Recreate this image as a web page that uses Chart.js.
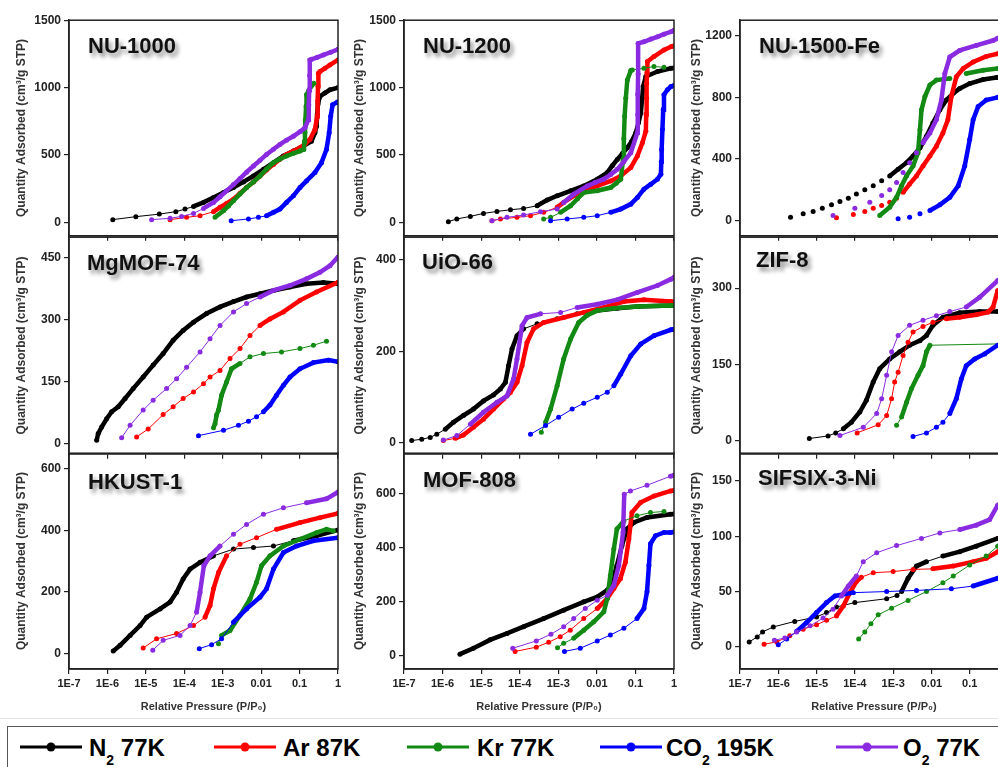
<!DOCTYPE html>
<html>
<head>
<meta charset="utf-8">
<script src="https://cdn.jsdelivr.net/npm/chart.js@4.4.1/dist/chart.umd.min.js"></script>
<style>
    body { margin: 0; width: 998px; height: 767px; overflow: hidden; background: #fff; position: relative; font-family: 'Liberation Sans', Arial, sans-serif; }
    canvas { position: absolute; }
    .tag { position: absolute; font: bold 22px 'Liberation Sans', Arial, sans-serif; line-height: 22px; color: #111; white-space: nowrap; text-shadow: 3px 4px 4px rgba(0,0,0,0.45); }
    #legendBox { position: absolute; left: 7px; top: 726px; width: 1000px; height: 50px; border: 1.5px solid #555; box-sizing: border-box; }
    #topRule { position: absolute; left: 0; top: 718px; width: 998px; height: 1px; background: #e2e2e2; }
    .lg-mark { position: absolute; top: 740px; }
    .lg-text { position: absolute; top: 735px; font: bold 24px 'Liberation Sans', Arial, sans-serif; line-height: 26px; color: #000; white-space: nowrap; }
    .lg-text sub { font-size: 14px; vertical-align: -9px; line-height: 0; }
</style>
</head>
<body>
<div id="topRule"></div>
<div id="legendBox"></div>
<script>
// x values are log10(P/P0), y values are cm3/g STP
const X_TICKS = [-7, -6, -5, -4, -3, -2, -1, 0];
const X_TICK_LABELS = ['1E-7', '1E-6', '1E-5', '1E-4', '1E-3', '0.01', '0.1', '1'];

const GASES = ['N2 77K', 'Ar 87K', 'Kr 77K', 'CO2 195K', 'O2 77K'];
const GAS_COLORS = ['#000000', '#ff0000', '#138a13', '#0000ff', '#8a2be2'];
const LEGEND_HTML = ['N<sub>2</sub> 77K', 'Ar 87K', 'Kr 77K', 'CO<sub>2</sub> 195K', 'O<sub>2</sub> 77K'];

const PANEL_NAMES = ['NU-1000', 'NU-1200', 'NU-1500-Fe', 'MgMOF-74', 'UiO-66', 'ZIF-8', 'HKUST-1', 'MOF-808', 'SIFSIX-3-Ni'];

// ---- NU-1000
const NU1000_YTICKS = [0, 500, 1000, 1500];
const NU1000_N2 = [[-5.86,20],[-5.26,42],[-4.65,61],[-4.22,79],[-3.98,98],[-3.76,118],[-3.5,148],[-3.24,184],[-2.98,221],[-2.72,258],[-2.46,300],[-2.2,344],[-1.94,393],[-1.68,443],[-1.42,492],[-1.16,529],[-0.9,566],[-0.69,602],[-0.6,664],[-0.56,713],[-0.54,800],[-0.52,880],[-0.47,934],[-0.34,960],[-0.21,983],[0,1000]];
const NU1000_AR = [[-4.37,20],[-3.94,37],[-3.59,49],[-3.24,79],[-3.07,111],[-2.9,140],[-2.72,172],[-2.55,215],[-2.38,258],[-2.2,300],[-2.03,344],[-1.86,388],[-1.68,430],[-1.51,468],[-1.34,504],[-1.16,530],[-0.99,553],[-0.86,580],[-0.73,615],[-0.6,689],[-0.54,787],[-0.53,900],[-0.52,1010],[-0.51,1107],[-0.47,1119],[-0.34,1143],[-0.21,1168],[0,1205]];
const NU1000_KR = [[-3.2,37],[-2.98,86],[-2.85,122],[-2.72,160],[-2.55,210],[-2.38,258],[-2.2,300],[-2.03,344],[-1.86,395],[-1.68,443],[-1.51,470],[-1.34,492],[-1.16,512],[-0.99,529],[-0.89,541],[-0.87,600],[-0.86,664],[-0.85,760],[-0.83,860],[-0.82,947],[-0.75,985],[-0.63,1033]];
const NU1000_CO2 = [[-2.78,12],[-2.33,25],[-2.07,37],[-1.86,49],[-1.68,74],[-1.51,98],[-1.34,148],[-1.16,197],[-0.99,258],[-0.82,307],[-0.6,369],[-0.43,443],[-0.3,541],[-0.23,664],[-0.19,787],[-0.14,873],[-0.03,890],[0,895]];
const NU1000_O2 = [[-4.85,20],[-4.37,30],[-4.07,44],[-3.76,66],[-3.5,103],[-3.24,148],[-3.07,190],[-2.9,234],[-2.72,280],[-2.55,325],[-2.38,372],[-2.2,418],[-2.03,460],[-1.86,504],[-1.68,542],[-1.51,578],[-1.34,610],[-1.16,639],[-0.99,672],[-0.86,701],[-0.77,762],[-0.76,870],[-0.75,980],[-0.74,1090],[-0.73,1205],[-0.69,1210],[-0.54,1225],[-0.38,1242],[-0.19,1262],[0,1284]];

// ---- NU-1200
const NU1200_YTICKS = [0, 500, 1000, 1500];
const NU1200_N2 = [[-5.85,5],[-5.63,25],[-5.28,44],[-4.94,66],[-4.59,81],[-4.24,93],[-3.9,103],[-3.55,123],[-3.29,165],[-3.03,197],[-2.68,234],[-2.34,270],[-1.99,320],[-1.73,369],[-1.6,420],[-1.47,467],[-1.34,510],[-1.21,553],[-1.1,600],[-0.99,664],[-0.92,740],[-0.86,811],[-0.8,1008],[-0.73,1082],[-0.43,1119],[-0.08,1143],[0,1145]];
const NU1200_AR = [[-4.72,12],[-4.5,25],[-4.07,37],[-3.72,49],[-3.38,74],[-3.03,111],[-2.86,148],[-2.6,197],[-2.34,234],[-1.99,270],[-1.64,307],[-1.38,344],[-1.12,406],[-0.95,492],[-0.82,590],[-0.73,676],[-0.72,800],[-0.71,920],[-0.71,1033],[-0.7,1110],[-0.69,1193],[-0.52,1230],[-0.26,1279],[-0.08,1303],[0,1310]];
const NU1200_KR = [[-3.38,25],[-3.2,37],[-2.94,74],[-2.68,123],[-2.5,175],[-2.34,221],[-1.99,234],[-1.64,258],[-1.5,290],[-1.38,320],[-1.32,467],[-1.3,620],[-1.28,787],[-1.25,920],[-1.21,1057],[-1.12,1126],[-1.08,1131],[-0.78,1143],[-0.52,1156],[-0.26,1151]];
const NU1200_CO2 = [[-3.2,12],[-2.77,25],[-2.34,37],[-1.99,49],[-1.64,74],[-1.38,98],[-1.12,135],[-0.95,184],[-0.78,246],[-0.6,283],[-0.43,320],[-0.34,357],[-0.33,450],[-0.32,541],[-0.3,690],[-0.28,836],[-0.26,947],[-0.17,984],[-0.08,1008],[0,1015]];
const NU1200_O2 = [[-4.72,12],[-4.33,37],[-3.9,54],[-3.46,79],[-3.03,98],[-2.86,148],[-2.6,209],[-2.25,270],[-2.05,295],[-1.82,320],[-1.64,355],[-1.47,393],[-1.3,450],[-1.12,516],[-0.95,664],[-0.94,800],[-0.94,950],[-0.93,1100],[-0.93,1328],[-0.78,1340],[-0.6,1360],[-0.43,1377],[-0.26,1396],[-0.08,1414],[0,1425]];

// ---- NU-1500-Fe
const NU1500_YTICKS = [0, 400, 800, 1200];
const NU1500_N2 = [[-5.68,21],[-5.35,43],[-5.09,58],[-4.85,79],[-4.61,101],[-4.39,122],[-4.17,144],[-3.96,171],[-3.74,199],[-3.52,225],[-3.3,257],[-3.09,289],[-2.87,332],[-2.65,375],[-2.48,418],[-2.3,471],[-2.13,546],[-1.96,632],[-1.78,718],[-1.61,782],[-1.43,825],[-1.26,857],[-1.0,889],[-0.65,915],[-0.3,928],[0,930]];
const NU1500_AR = [[-4.48,17],[-4.04,39],[-3.74,58],[-3.52,79],[-3.3,96],[-3.09,118],[-2.91,144],[-2.74,182],[-2.57,236],[-2.39,289],[-2.22,354],[-2.04,418],[-1.87,482],[-1.7,568],[-1.57,654],[-1.48,804],[-1.35,932],[-1.17,986],[-0.91,1029],[-0.57,1065],[-0.27,1082],[0,1090]];
const NU1500_KR = [[-3.35,32],[-3.09,86],[-2.91,150],[-2.78,225],[-2.65,289],[-2.48,354],[-2.35,439],[-2.3,589],[-2.26,718],[-2.17,804],[-2.04,879],[-1.87,911],[-1.52,921],[-1.09,954],[-0.65,975],[-0.27,986],[0,985]];
const NU1500_CO2 = [[-2.87,11],[-2.57,21],[-2.3,43],[-2.04,64],[-1.78,101],[-1.52,150],[-1.3,225],[-1.13,354],[-1.0,525],[-0.91,654],[-0.78,739],[-0.57,782],[-0.27,799],[0,805]];
const NU1500_O2 = [[-4.57,32],[-4.0,79],[-3.61,118],[-3.3,161],[-3.09,199],[-2.91,246],[-2.74,311],[-2.57,375],[-2.39,439],[-2.22,504],[-2.04,568],[-1.87,654],[-1.74,782],[-1.65,954],[-1.52,1061],[-1.26,1104],[-0.83,1136],[-0.39,1168],[-0.27,1183],[0,1195]];

// ---- MgMOF-74
const MGMOF_YTICKS = [0, 150, 300, 450];
const MGMOF_N2 = [[-6.28,8],[-6.24,24],[-6.15,40],[-6.02,60],[-5.89,77],[-5.72,89],[-5.54,109],[-5.33,133],[-5.07,161],[-4.81,190],[-4.55,218],[-4.29,250],[-4.03,274],[-3.76,294],[-3.42,315],[-3.07,331],[-2.72,344],[-2.38,355],[-2.03,363],[-1.68,371],[-1.25,379],[-0.82,387],[-0.38,390],[0,387]];
const MGMOF_AR = [[-5.24,16],[-4.94,35],[-4.55,70],[-4.29,89],[-4.03,109],[-3.76,125],[-3.5,145],[-3.33,161],[-3.07,177],[-2.81,206],[-2.55,230],[-2.29,262],[-2.03,286],[-1.77,302],[-1.42,319],[-0.99,347],[-0.56,367],[0,391]];
const MGMOF_KR = [[-3.24,38],[-3.2,48],[-3.16,69],[-3.11,81],[-3.03,117],[-2.9,149],[-2.77,181],[-2.55,194],[-2.29,210],[-1.94,218],[-1.47,222],[-0.99,230],[-0.64,238],[-0.3,248]];
const MGMOF_CO2 = [[-3.63,19],[-2.98,32],[-2.59,44],[-2.33,54],[-2.12,65],[-1.94,77],[-1.77,93],[-1.6,117],[-1.42,141],[-1.25,161],[-0.99,181],[-0.64,196],[-0.25,202],[0,198]];
const MGMOF_O2 = [[-5.63,14],[-5.41,44],[-5.07,81],[-4.81,105],[-4.46,133],[-4.2,157],[-3.94,185],[-3.59,222],[-3.33,254],[-3.07,286],[-2.72,319],[-2.38,339],[-2.03,355],[-1.68,371],[-1.25,383],[-0.82,399],[-0.47,415],[-0.21,431],[0,452]];

// ---- UiO-66
const UIO_YTICKS = [0, 200, 400];
const UIO_N2 = [[-6.8,4],[-6.54,7],[-6.32,11],[-6.15,18],[-5.93,29],[-5.72,44],[-5.46,59],[-5.2,73],[-4.94,91],[-4.68,104],[-4.5,117],[-4.37,132],[-4.29,168],[-4.2,205],[-4.07,234],[-3.9,249],[-3.55,260],[-3.03,271],[-2.51,282],[-1.99,289],[-1.47,294],[-0.95,298],[-0.08,300],[0,300]];
const UIO_AR = [[-5.98,4],[-5.67,9],[-5.46,16],[-5.2,33],[-4.94,51],[-4.68,73],[-4.42,95],[-4.24,110],[-4.07,132],[-3.94,168],[-3.81,219],[-3.64,249],[-3.38,263],[-2.86,274],[-2.34,285],[-1.82,296],[-1.3,309],[-0.78,313],[-0.08,309],[0,308]];
const UIO_KR = [[-3.44,22],[-3.33,44],[-3.2,73],[-3.03,124],[-2.86,183],[-2.68,227],[-2.47,263],[-2.25,279],[-1.99,289],[-1.56,294],[-0.95,298],[-0.08,300],[0,300]];
const UIO_CO2 = [[-3.72,18],[-3.33,37],[-2.99,55],[-2.64,73],[-2.34,86],[-1.99,99],[-1.73,110],[-1.56,124],[-1.38,150],[-1.12,190],[-0.86,216],[-0.52,234],[-0.08,247],[0,248]];
const UIO_O2 = [[-5.98,5],[-5.63,15],[-5.28,40],[-4.94,66],[-4.59,88],[-4.33,102],[-4.16,139],[-4.07,183],[-3.94,256],[-3.81,274],[-3.46,282],[-2.94,285],[-2.51,296],[-1.99,303],[-1.47,313],[-0.95,329],[-0.43,344],[-0.08,358],[0,362]];

// ---- ZIF-8
const ZIF_YTICKS = [0, 150, 300];
const ZIF_N2 = [[-5.19,5],[-4.7,10],[-4.5,16],[-4.3,24],[-4.09,37],[-3.87,57],[-3.7,80],[-3.52,116],[-3.35,142],[-3.09,161],[-2.83,175],[-2.57,188],[-2.3,197],[-2.13,207],[-1.96,227],[-1.7,243],[-1.26,252],[-0.74,254],[-0.27,254],[0,254]];
const ZIF_AR = [[-3.94,16],[-3.39,32],[-3.17,50],[-3.04,83],[-2.96,116],[-2.87,135],[-2.74,168],[-2.61,194],[-2.48,214],[-2.22,225],[-1.96,233],[-1.61,240],[-1.26,243],[-0.83,248],[-0.52,253],[-0.39,263],[-0.27,295],[0,300]];
const ZIF_KR = [[-2.91,31],[-2.78,47],[-2.65,76],[-2.52,103],[-2.35,129],[-2.22,148],[-2.13,175],[-2.04,188],[0,191]];
const ZIF_CO2 = [[-2.48,9],[-2.13,16],[-1.87,27],[-1.7,37],[-1.52,54],[-1.35,83],[-1.22,122],[-1.09,148],[-0.87,161],[-0.61,171],[-0.27,188],[0,195]];
const ZIF_O2 = [[-4.39,11],[-3.78,27],[-3.43,54],[-3.3,83],[-3.17,129],[-3.04,175],[-2.87,207],[-2.57,227],[-2.22,237],[-1.87,246],[-1.52,254],[-1.09,263],[-0.74,282],[-0.27,315],[0,325]];

// ---- HKUST-1
const HKUST_YTICKS = [0, 200, 400, 600];
const HKUST_N2 = [[-5.85,8],[-5.67,27],[-5.41,59],[-5.15,91],[-4.98,118],[-4.63,145],[-4.37,167],[-4.2,199],[-4.03,242],[-3.85,274],[-3.59,296],[-3.24,317],[-2.72,339],[-2.2,344],[-1.68,349],[-1.16,366],[-0.56,382],[0,401]];
const HKUST_AR = [[-5.07,18],[-4.72,48],[-4.2,65],[-3.76,91],[-3.46,118],[-3.33,156],[-3.24,210],[-3.11,263],[-2.9,317],[-2.55,355],[-2.12,376],[-1.6,403],[-0.99,425],[-0.47,441],[0,455]];
const HKUST_KR = [[-3.11,32],[-3.03,59],[-2.81,75],[-2.55,124],[-2.29,177],[-2.12,231],[-1.99,285],[-1.77,317],[-1.42,349],[-0.99,371],[-0.56,392],[-0.3,403],[-0.12,398]];
const HKUST_CO2 = [[-3.61,16],[-3.29,29],[-3.03,48],[-2.72,102],[-2.38,145],[-2.03,183],[-1.86,210],[-1.68,274],[-1.42,328],[-1.08,349],[-0.64,366],[0,376]];
const HKUST_O2 = [[-4.82,11],[-4.55,43],[-4.11,59],[-3.85,91],[-3.68,134],[-3.59,199],[-3.49,285],[-3.33,317],[-3.07,349],[-2.72,387],[-2.38,419],[-1.94,452],[-1.42,473],[-0.82,489],[-0.3,502],[0,524]];

// ---- MOF-808
const MOF808_YTICKS = [0, 200, 400, 600];
const MOF808_N2 = [[-5.55,5],[-5.2,27],[-4.77,58],[-4.33,82],[-3.9,107],[-3.38,137],[-2.86,168],[-2.34,199],[-1.99,217],[-1.73,242],[-1.6,272],[-1.48,334],[-1.35,407],[-1.22,469],[-1.04,493],[-0.7,512],[-0.09,524],[0,525]];
const MOF808_AR = [[-4.12,15],[-3.57,31],[-3.25,49],[-2.95,70],[-2.69,94],[-2.34,137],[-1.99,174],[-1.73,211],[-1.56,248],[-1.39,285],[-1.26,346],[-1.17,432],[-1.09,530],[-0.87,567],[-0.52,591],[-0.09,610],[0,612]];
const MOF808_KR = [[-3.02,29],[-2.86,45],[-2.6,64],[-2.34,94],[-2.08,125],[-1.82,162],[-1.73,211],[-1.65,297],[-1.56,395],[-1.48,469],[-1.3,499],[-0.96,518],[-0.61,530],[-0.26,534]];
const MOF808_CO2 = [[-2.84,15],[-2.43,27],[-1.99,54],[-1.65,76],[-1.3,101],[-0.96,137],[-0.78,174],[-0.7,236],[-0.65,334],[-0.61,414],[-0.48,444],[-0.26,456],[-0.09,456],[0,458]];
const MOF808_O2 = [[-4.18,27],[-3.57,54],[-3.19,79],[-2.86,107],[-2.6,137],[-2.3,174],[-1.99,205],[-1.73,223],[-1.56,260],[-1.43,334],[-1.32,456],[-1.29,598],[-1.13,610],[-0.7,631],[-0.09,665],[0,668]];

// ---- SIFSIX-3-Ni
const SIFSIX_YTICKS = [0, 50, 100, 150];
const SIFSIX_N2 = [[-6.76,4.5],[-6.55,9],[-6.41,13.5],[-6.13,18],[-5.57,23],[-5.0,27],[-4.74,31],[-4.48,36],[-4.0,40],[-3.17,43.5],[-2.9,46.5],[-2.78,50],[-2.61,62],[-2.39,73],[-2.13,77],[-1.7,82],[-1.26,86],[-0.83,91],[-0.27,98],[0,101]];
const SIFSIX_AR = [[-6.37,2.4],[-6.04,4.5],[-5.7,10],[-5.35,16],[-5.0,20],[-4.74,24],[-4.48,28],[-4.3,37],[-4.13,49],[-3.96,59],[-3.83,63],[-3.52,67],[-3.0,68],[-2.48,70],[-1.96,70.5],[-1.43,73],[-0.91,77],[-0.57,80],[-0.27,86],[0,90]];
const SIFSIX_KR = [[-3.9,7],[-3.74,13.5],[-3.58,21],[-3.39,29],[-3.04,35],[-2.61,42],[-2.13,50],[-1.7,58],[-1.43,64],[-1.0,74],[-0.57,82],[-0.27,91],[0,95]];
const SIFSIX_CO2 = [[-6.0,2],[-5.78,7],[-5.52,14],[-5.26,22],[-5.0,31],[-4.74,40],[-4.52,46],[-4.04,49],[-3.17,50],[-2.39,51],[-1.48,52.5],[-0.91,55],[-0.27,62],[0,65]];
const SIFSIX_O2 = [[-6.1,6],[-5.83,8],[-5.52,13.5],[-5.17,19],[-4.83,26],[-4.57,34],[-4.35,46],[-4.17,55],[-3.96,64],[-3.78,77],[-3.43,85],[-2.91,91.5],[-2.26,98],[-1.78,103],[-1.26,106],[-0.83,110],[-0.48,115],[-0.27,128],[0,135]];

// layout of the 3x3 grid (pixels)
const COL_LEFT = [69, 404, 740];
const COL_WIDTH = [269, 270, 268];
const ROW_TOP = [20, 237, 453];
const ROW_HEIGHT = [216, 217, 216];
const Y_TITLE_PAD = [14, 17, 18];

// x-ranges where the instrument points sit so close they read as a thick band
const panels = [
    { row: 0, col: 0, yMin: -100, yMax: 1500, yTicks: NU1000_YTICKS, series: [NU1000_N2, NU1000_AR, NU1000_KR, NU1000_CO2, NU1000_O2],
      dense: [[[-3.8, 0]], [[-3.3, 0]], [[-3.25, 0]], [[-1.9, 0]], [[-3.6, 0]]], tag: [88, 35] },
    { row: 0, col: 1, yMin: -100, yMax: 1500, yTicks: NU1200_YTICKS, series: [NU1200_N2, NU1200_AR, NU1200_KR, NU1200_CO2, NU1200_O2],
      dense: [[[-3.6, 0]], [[-3.1, 0]], [[-3.0, -1.08]], [[-1.7, 0]], [[-3.0, 0]]], tag: [423, 35] },
    { row: 0, col: 2, yMin: -100, yMax: 1300, yTicks: NU1500_YTICKS, series: [NU1500_N2, NU1500_AR, NU1500_KR, NU1500_CO2, NU1500_O2],
      dense: [[[-3.1, 0]], [[-2.9, 0]], [[-3.4, -1.85], [-1.2, 0]], [[-2.2, 0]], [[-2.3, 0]]], dotsOnly: true, tag: [759, 35] },
    { row: 1, col: 0, yMin: -25, yMax: 500, yTicks: MGMOF_YTICKS, series: [MGMOF_N2, MGMOF_AR, MGMOF_KR, MGMOF_CO2, MGMOF_O2],
      dense: [[[-6.3, 0]], [[-2.2, 0]], [[-3.3, -2.75]], [[-2.1, 0]], [[-2.2, 0]]], tag: [87, 252] },
    { row: 1, col: 1, yMin: -25, yMax: 450, yTicks: UIO_YTICKS, series: [UIO_N2, UIO_AR, UIO_KR, UIO_CO2, UIO_O2],
      dense: [[[-6.0, -3.9], [-2.5, 0]], [[-5.7, 0]], [[-3.35, 0]], [[-1.6, 0]], [[-5.3, -3.8], [-2.6, 0]]], tag: [422, 251] },
    { row: 1, col: 2, yMin: -25, yMax: 400, yTicks: ZIF_YTICKS, series: [ZIF_N2, ZIF_AR, ZIF_KR, ZIF_CO2, ZIF_O2],
      dense: [[[-4.4, 0]], [[-1.9, 0]], [[-2.8, -2.04]], [[-1.6, 0]], [[-1.2, 0]]], tag: [756, 249] },
    { row: 2, col: 0, yMin: -50, yMax: 650, yTicks: HKUST_YTICKS, series: [HKUST_N2, HKUST_AR, HKUST_KR, HKUST_CO2, HKUST_O2],
      dense: [[[-6, -3.5], [-1.3, 0]], [[-3.5, -2.9], [-1.6, 0]], [[-3.1, -0.1]], [[-3.0, 0]], [[-3.75, -3.3], [-0.9, 0]]], tag: [88, 471] },
    { row: 2, col: 1, yMin: -50, yMax: 750, yTicks: MOF808_YTICKS, series: [MOF808_N2, MOF808_AR, MOF808_KR, MOF808_CO2, MOF808_O2],
      dense: [[[-5.6, 0]], [[-2.1, 0]], [[-2.6, -1.3], [-0.6, -0.25]], [[-1.1, 0]], [[-1.75, -1.3], [-0.6, 0]]], tag: [423, 469] },
    { row: 2, col: 2, yMin: -20, yMax: 175, yTicks: SIFSIX_YTICKS, series: [SIFSIX_N2, SIFSIX_AR, SIFSIX_KR, SIFSIX_CO2, SIFSIX_O2],
      dense: [[[-2.85, -2.3], [-2.0, 0]], [[-4.7, -3.9], [-2.3, 0]], [[-0.5, 0]], [[-5.6, -4.5], [-1.2, 0]], [[-4.4, -4.0], [-1.5, 0]]], tag: [758, 467] }
];

const X_FONT = { family: "'Liberation Sans', Arial, sans-serif", size: 11, weight: 'bold' };
const Y_FONT = { family: "'Liberation Sans', Arial, sans-serif", size: 12, weight: 'bold' };

// draws the closed frame round each plot
const frame = {
    id: 'frame',
    afterDatasetsDraw(chart) {
        const { ctx, chartArea: a } = chart;
        ctx.save();
        ctx.strokeStyle = '#222';
        ctx.lineWidth = 1.5;
        ctx.strokeRect(a.left, a.top, a.right - a.left, a.bottom - a.top);
        ctx.restore();
    }
};

const inRanges = (ranges, x) => ranges.some(r => x >= r[0] && x < r[1]);

panels.forEach((p, i) => {
    const bottomRow = p.row === 2;
    const xAxisH = bottomRow ? 48 : 8;
    const w = 69 + COL_WIDTH[p.col] + 8;
    const h = 10 + ROW_HEIGHT[p.row] + xAxisH + 2;

    const canvas = document.createElement('canvas');
    canvas.width = w;
    canvas.height = h;
    canvas.style.left = (COL_LEFT[p.col] - 69) + 'px';
    canvas.style.top = (ROW_TOP[p.row] - 10) + 'px';
    canvas.style.width = w + 'px';
    canvas.style.height = h + 'px';
    document.body.appendChild(canvas);

    const datasets = p.series.map((data, s) => ({
        label: GASES[s],
        data: data,
        order: 5 - s,
        borderColor: GAS_COLORS[s],
        backgroundColor: GAS_COLORS[s],
        pointBackgroundColor: GAS_COLORS[s],
        pointBorderWidth: 0,
        pointRadius: 2.5,
        borderWidth: 1,
        tension: 0,
        segment: {
            borderWidth: ctx => inRanges(p.dense[s], data[ctx.p0DataIndex][0]) ? 4.5 : 1,
            borderColor: ctx => (p.dotsOnly && !inRanges(p.dense[s], data[ctx.p0DataIndex][0])) ? 'rgba(0,0,0,0)' : GAS_COLORS[s]
        }
    }));

    new Chart(canvas, {
        type: 'line',
        data: { datasets: datasets },
        options: {
            responsive: false,
            animation: false,
            layout: { padding: { left: 0, top: 10, right: 8, bottom: 2 } },
            plugins: { legend: { display: false }, tooltip: { enabled: false } },
            scales: {
                x: {
                    type: 'linear',
                    min: -7,
                    max: 0,
                    afterBuildTicks: scale => { scale.ticks = X_TICKS.map(v => ({ value: v })); },
                    afterFit: scale => { scale.height = xAxisH; },
                    grid: { drawOnChartArea: false, drawTicks: true, tickLength: 5, color: '#222', lineWidth: 1.2 },
                    border: { display: true, color: '#222', width: 1.5 },
                    ticks: {
                        font: X_FONT,
                        color: '#222',
                        padding: 3,
                        maxRotation: 0,
                        autoSkip: false,
                        callback: v => bottomRow ? X_TICK_LABELS[X_TICKS.indexOf(v)] : ''
                    },
                    title: {
                        display: bottomRow,
                        text: 'Relative Pressure (P/P\u2080)',
                        font: X_FONT,
                        color: '#333',
                        padding: { top: 0, bottom: 3 }
                    }
                },
                y: {
                    min: p.yMin,
                    max: p.yMax,
                    afterBuildTicks: scale => { scale.ticks = p.yTicks.map(v => ({ value: v })); },
                    afterFit: scale => { scale.width = 69; },
                    grid: { drawOnChartArea: false, drawTicks: true, tickLength: 5, color: '#222', lineWidth: 1.2 },
                    border: { display: true, color: '#222', width: 1.5 },
                    ticks: { font: Y_FONT, color: '#222', padding: 3, callback: v => String(v) },
                    title: {
                        display: true,
                        text: 'Quantity Adsorbed (cm\u00b3/g STP)',
                        font: Y_FONT,
                        color: '#333',
                        padding: { top: Y_TITLE_PAD[p.col], bottom: 0 }
                    }
                }
            }
        },
        plugins: [frame]
    });

    const tag = document.createElement('div');
    tag.className = 'tag';
    tag.textContent = PANEL_NAMES[i];
    tag.style.left = p.tag[0] + 'px';
    tag.style.top = p.tag[1] + 'px';
    document.body.appendChild(tag);
});

// legend strip along the bottom
const LEGEND_MARK_X = [20, 214, 407, 600, 836];
const LEGEND_TEXT_X = [89, 283, 477, 666, 903];
GASES.forEach((g, s) => {
    const mark = document.createElement('div');
    mark.className = 'lg-mark';
    mark.style.left = LEGEND_MARK_X[s] + 'px';
    mark.innerHTML = '<svg width="62" height="14"><line x1="0" y1="7" x2="62" y2="7" stroke="' + GAS_COLORS[s] +
        '" stroke-width="3"/><circle cx="31" cy="7" r="4.5" fill="' + GAS_COLORS[s] + '"/></svg>';
    document.body.appendChild(mark);

    const text = document.createElement('div');
    text.className = 'lg-text';
    text.style.left = LEGEND_TEXT_X[s] + 'px';
    text.innerHTML = LEGEND_HTML[s];
    document.body.appendChild(text);
});
</script>
</body>
</html>
